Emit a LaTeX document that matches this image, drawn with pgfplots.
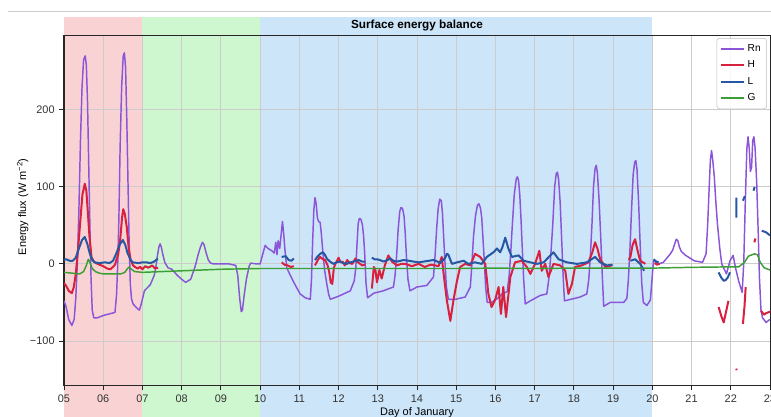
\documentclass[border=0pt]{standalone}
\usepackage{fontspec}
\setmainfont{Liberation Sans}
\usepackage{pgfplots}
\pgfplotsset{compat=1.18}

\definecolor{cRn}{HTML}{8A55D9}
\definecolor{cH}{HTML}{D8203F}
\definecolor{cL}{HTML}{2757A3}
\definecolor{cG}{HTML}{3C9E35}
\definecolor{spanA}{HTML}{F9D3D3}
\definecolor{spanB}{HTML}{CEF7CF}
\definecolor{spanC}{HTML}{CCE5F9}

\begin{document}
\begin{tikzpicture}
\begin{axis}[
    set layers,
    x=29.4pt, y=0.5775pt,
    xmin=5, xmax=23, ymin=-158, ymax=297,
    unbounded coords=jump,
    axis line style={black!85, line width=0.75pt},
    tick align=outside,
    xtick pos=bottom, ytick pos=left,
    major tick length=3.5pt,
    tick style={black!85, line width=0.6pt},
    xtick={5,...,23},
    xticklabels={05,06,07,08,09,10,11,12,13,14,15,16,17,18,19,20,21,22,23},
    ytick={-100,0,100,200},
    yticklabels={−100,0,100,200},
    ticklabel style={font=\fontsize{8.2}{10}\selectfont, text=black!80},
    grid=major,
    major grid style={black!20, line width=0.6pt},
    xlabel={Day of January},
    xlabel style={at={(axis description cs:0.5,-0.084)}, anchor=base,
        font=\fontsize{8.2}{10}\selectfont, inner sep=0pt},
    ylabel={Energy flux (W m\textsuperscript{−2})},
    ylabel style={at={(axis description cs:-0.0585,0.51)}, anchor=center,
        font=\fontsize{8.2}{10}\selectfont, inner sep=0pt},
    legend style={at={(axis description cs:0.9957,0.9914)}, anchor=north east,
        draw=black!25, rounded corners=2pt, fill=white, fill opacity=0.85,
        text opacity=1, font=\fontsize{7.6}{9}\selectfont,
        row sep=1.6pt, inner sep=2.5pt},
    legend cell align=left,
]

% background periods
\addplot[on layer=axis background, fill=spanA, draw=none, forget plot]
    coordinates {(5,-200) (5,320) (7,320) (7,-200)} -- cycle;
\addplot[on layer=axis background, fill=spanB, draw=none, forget plot]
    coordinates {(7,-200) (7,320) (10,320) (10,-200)} -- cycle;
\addplot[on layer=axis background, fill=spanC, draw=none, forget plot]
    coordinates {(10,-200) (10,320) (20,320) (20,-200)} -- cycle;

% net radiation
\addplot[cRn, line width=1.1pt, line join=round] coordinates {
(5.00,-48) (5.05,-55) (5.12,-72) (5.20,-80) (5.26,-72) (5.30,-45) (5.34,0)
(5.38,70) (5.42,160) (5.46,230) (5.50,265) (5.54,270) (5.57,258) (5.60,210)
(5.63,130) (5.66,50) (5.69,-20) (5.72,-60) (5.76,-70) (5.85,-70) (6.00,-67)
(6.15,-65) (6.30,-63) (6.34,-40) (6.37,0) (6.40,60) (6.43,150) (6.47,230)
(6.51,270) (6.54,274) (6.57,255) (6.60,190) (6.63,110) (6.66,30) (6.69,-25)
(6.72,-45) (6.76,-52) (6.85,-57) (6.92,-60) (6.97,-52) (7.05,-35) (7.20,-27)
(7.30,-15) (7.34,-5) (7.38,10) (7.42,22) (7.45,26) (7.48,22) (7.52,12)
(7.57,2) (7.65,-5) (7.75,-7) (7.89,-15) (8.00,-20) (8.10,-24) (8.23,-20)
(8.34,-4) (8.42,12) (8.48,22) (8.53,28) (8.57,25) (8.62,15) (8.68,5)
(8.74,1) (8.80,0) (9.00,0) (9.20,0) (9.38,-2) (9.43,-15) (9.48,-45)
(9.52,-62) (9.55,-60) (9.59,-42) (9.65,-20) (9.72,-3) (9.76,1) (9.90,0)
(10.00,0) (10.08,15) (10.13,24) (10.20,20) (10.30,17) (10.36,14) (10.40,28)
(10.43,12) (10.46,30) (10.50,20) (10.54,40) (10.57,55) (10.60,40) (10.63,20)
(10.68,-5) (10.77,-15) (10.88,-26) (11.02,-39) (11.15,-44) (11.28,-46) (11.31,-20)
(11.34,30) (11.37,70) (11.40,86) (11.43,78) (11.46,60) (11.49,55) (11.53,54)
(11.56,40) (11.60,15) (11.65,-10) (11.70,-26) (11.75,-40) (11.79,-46) (12.00,-42)
(12.30,-35) (12.40,-22) (12.44,-5) (12.47,25) (12.50,52) (12.53,59) (12.57,58)
(12.61,50) (12.64,35) (12.67,10) (12.70,-25) (12.74,-44) (12.90,-38) (13.14,-35)
(13.40,-30) (13.44,-15) (13.48,10) (13.52,45) (13.56,68) (13.59,73) (13.63,72)
(13.67,62) (13.70,40) (13.73,10) (13.77,-20) (13.82,-35) (14.00,-30) (14.25,-28)
(14.42,-17) (14.46,10) (14.50,45) (14.54,72) (14.58,84) (14.62,82) (14.65,65)
(14.68,35) (14.71,5) (14.75,-30) (14.80,-46) (14.98,-46) (15.23,-43) (15.36,-30)
(15.40,0) (15.44,35) (15.49,62) (15.54,76) (15.58,78) (15.62,72) (15.65,60)
(15.68,35) (15.72,0) (15.75,-30) (15.79,-50) (15.90,-50) (16.05,-45) (16.17,-39)
(16.30,-36) (16.35,-15) (16.39,15) (16.43,50) (16.48,90) (16.53,110) (16.56,113)
(16.59,108) (16.62,90) (16.65,60) (16.68,25) (16.72,-20) (16.76,-52) (16.89,-48)
(17.14,-41) (17.31,-39) (17.36,-20) (17.41,10) (17.46,50) (17.51,100) (17.55,117)
(17.58,119) (17.61,110) (17.65,80) (17.69,30) (17.73,-20) (17.76,-48) (17.92,-46)
(18.16,-43) (18.33,-39) (18.38,-20) (18.42,10) (18.46,50) (18.50,100) (18.54,124)
(18.57,128) (18.60,118) (18.64,85) (18.68,40) (18.72,-10) (18.76,-55) (18.93,-50)
(19.27,-50) (19.35,-45) (19.39,-20) (19.43,20) (19.47,70) (19.51,115) (19.55,132)
(19.58,134) (19.61,122) (19.65,80) (19.69,25) (19.73,-25) (19.77,-50) (19.86,-54)
(19.95,-47) (20.00,-15) (20.03,4) (20.16,0) (20.28,2) (20.46,13) (20.52,18)
(20.57,26) (20.61,32) (20.65,30) (20.69,22) (20.74,16) (20.85,11) (21.07,4)
(21.28,2) (21.37,13) (21.41,50) (21.45,100) (21.48,135) (21.51,147) (21.54,135)
(21.58,113) (21.62,80) (21.66,52) (21.72,20) (21.77,0) (21.89,-13) (21.98,4)
(22.06,11) (22.12,-5) (22.20,-22) (22.29,-37) (22.33,0) (22.37,80) (22.41,150)
(22.44,165) (22.47,150) (22.50,120) (22.53,125) (22.56,160) (22.59,165) (22.62,150)
(22.66,107) (22.70,40) (22.73,-17) (22.77,-60) (22.81,-70) (22.90,-76) (23.00,-72)
};
\addlegendentry{Rn}

% sensible heat
\addplot[cH, line width=1.5pt, line join=round] coordinates {
(5.00,-25) (5.05,-28) (5.12,-35) (5.20,-38) (5.25,-30) (5.30,-13) (5.36,20)
(5.41,52) (5.47,90) (5.53,104) (5.57,95) (5.60,73) (5.65,35) (5.70,9)
(5.76,3) (5.82,1) (5.90,-1) (6.00,-3) (6.10,-6) (6.18,-7) (6.25,-4)
(6.30,-1) (6.38,12) (6.43,30) (6.48,60) (6.51,71) (6.55,65) (6.60,48)
(6.65,20) (6.70,5) (6.76,-2) (6.81,-4) (6.88,-6) (6.94,-4) (7.00,-7)
(7.07,-3) (7.15,-5) (7.25,-2) (7.32,-6) (7.40,-5)
(7.41,nan)
(10.55,2) (10.62,-1) (10.70,-2) (10.78,-4) (10.86,-3)
(10.90,nan)
(11.40,-2) (11.47,5) (11.53,9) (11.60,6) (11.66,5) (11.72,-2) (11.76,-10)
(11.80,-24) (11.84,-26) (11.88,-5) (11.92,0) (12.00,8) (12.05,2) (12.10,3)
(12.16,-2) (12.22,5) (12.28,1) (12.35,0) (12.43,7) (12.50,2) (12.60,-2)
(12.68,-1)
(12.70,nan)
(12.85,-32) (12.88,-15) (12.90,-4) (12.94,-8) (12.98,-24) (13.04,-8) (13.10,-19)
(13.18,-2) (13.27,11) (13.36,3) (13.49,-2) (13.60,0) (13.70,0) (13.87,-3)
(14.04,0) (14.20,-4) (14.35,-1) (14.46,-2) (14.55,-3) (14.63,9) (14.70,-22)
(14.76,-47) (14.85,-74) (14.93,-47) (15.02,-22) (15.10,-4) (15.23,0) (15.36,-2)
(15.48,13) (15.61,9) (15.74,0) (15.82,-39) (15.90,-56) (15.99,-47) (16.08,-30)
(16.14,-65) (16.20,-30) (16.27,-69) (16.38,-17) (16.50,2) (16.67,4) (16.80,-4)
(16.89,-13) (17.01,0) (17.12,17) (17.18,-9) (17.27,0) (17.35,-17) (17.48,0)
(17.65,-2) (17.78,-9) (17.86,-39) (17.95,-26) (18.03,-4) (18.20,-2) (18.37,2)
(18.47,15) (18.54,28) (18.60,20) (18.67,6) (18.80,-4) (18.97,-2)
(19.00,nan)
(19.40,5) (19.44,9) (19.50,25) (19.56,32) (19.62,18) (19.69,4) (19.76,2) (19.82,0)
(19.90,nan)
(20.06,1) (20.12,-1) (20.19,0)
(20.20,nan)
(21.69,-56) (21.76,-68) (21.82,-76) (21.88,-62) (21.94,-48)
(21.96,nan)
(22.14,-136) (22.15,-138)
(22.16,nan)
(22.31,-78) (22.35,-55) (22.38,-30)
(22.40,nan)
(22.60,28) (22.63,33)
(22.65,nan)
(22.77,-61) (22.85,-66) (22.90,-64) (23.00,-62)
};
\addlegendentry{H}

% latent heat
\addplot[cL, line width=1.5pt, line join=round] coordinates {
(5.00,5) (5.05,6) (5.15,4) (5.22,4) (5.30,8) (5.38,20) (5.46,31)
(5.53,35) (5.60,25) (5.66,13) (5.72,5) (5.78,2) (5.90,1) (6.05,2)
(6.16,1) (6.25,4) (6.33,13) (6.42,25) (6.50,31) (6.56,25) (6.62,14)
(6.70,5) (6.75,2) (6.90,1) (7.00,2) (7.10,2) (7.20,1) (7.30,3)
(7.37,6) (7.40,6)
(7.41,nan)
(10.55,9) (10.65,10) (10.73,5) (10.80,4) (10.86,7)
(10.90,nan)
(11.40,5) (11.47,10) (11.53,13) (11.60,15) (11.65,12) (11.70,7) (11.78,3)
(11.87,0) (11.95,2) (12.04,3) (12.12,1) (12.21,0) (12.30,2) (12.38,3)
(12.45,4) (12.51,5) (12.60,3) (12.68,3)
(12.70,nan)
(12.85,8) (12.92,6) (12.98,6) (13.05,5) (13.15,3) (13.25,5) (13.32,7)
(13.40,4) (13.49,3) (13.58,4) (13.66,5) (13.80,4) (13.91,3) (14.05,2)
(14.17,3) (14.30,4) (14.42,5) (14.52,3) (14.59,1) (14.65,4) (14.72,8)
(14.76,13) (14.80,12) (14.89,0) (15.02,2) (15.19,4) (15.31,0) (15.48,2)
(15.65,0) (15.78,9) (15.95,15) (16.04,20) (16.12,15) (16.18,22) (16.25,34)
(16.33,20) (16.42,9) (16.50,10) (16.59,11) (16.72,4) (16.89,2) (17.06,0)
(17.23,2) (17.40,11) (17.48,15) (17.61,6) (17.82,2) (18.08,0) (18.33,2)
(18.45,6) (18.54,9) (18.67,2) (18.84,-2) (18.99,-1)
(19.00,nan)
(19.44,4) (19.56,6) (19.69,0) (19.75,-5) (19.79,-9)
(19.90,nan)
(20.03,6) (20.10,3) (20.16,2)
(20.20,nan)
(21.69,-11) (21.76,-18) (21.82,-22) (21.87,-21) (21.92,-18) (21.98,-11)
(22.00,nan)
(22.14,60) (22.145,86)
(22.16,nan)
(22.31,82) (22.36,88)
(22.40,nan)
(22.58,95) (22.61,100)
(22.65,nan)
(22.79,43) (22.90,41) (23.00,37)
};
\addlegendentry{L}

% ground heat flux
\addplot[cG, line width=1.1pt, line join=round] coordinates {
(5.00,-11) (5.20,-12) (5.40,-13) (5.50,-10) (5.57,-2) (5.62,6) (5.66,2)
(5.72,-6) (5.80,-10) (5.90,-12) (6.00,-13) (6.45,-13) (6.55,-11) (6.62,-6)
(6.66,-4) (6.72,-7) (6.80,-10) (7.00,-11) (7.50,-10) (8.00,-9) (8.50,-8)
(9.00,-7) (9.50,-6.5) (10.00,-6) (11.00,-6) (12.00,-6) (13.00,-6) (14.00,-6)
(15.00,-6) (16.00,-5.5) (17.00,-6) (18.00,-5.5) (19.00,-5.5) (20.00,-5.5) (21.00,-4.5)
(21.80,-4) (22.20,-4) (22.35,2) (22.45,10) (22.60,13) (22.68,12) (22.75,2)
(22.85,-5) (23.00,-8)
};
\addlegendentry{G}

\coordinate (TT) at (axis description cs:0.5,1.02);
\coordinate (BL) at (axis description cs:-0.09065,-0.08857);
\coordinate (TR) at (axis description cs:1.00142,1.1);
\coordinate (SL) at (axis description cs:-0.0793,1.0666);
\coordinate (SR) at (axis description cs:1.00142,1.0666);
\end{axis}
\node[anchor=base, inner sep=0pt, font=\bfseries\fontsize{8.8}{10}\selectfont]
    at (TT) {Surface energy balance};
\draw[black!20, line width=0.7pt] (SL) -- (SR);
\pgfresetboundingbox
\path (BL) rectangle (TR);
\end{tikzpicture}
\end{document}
